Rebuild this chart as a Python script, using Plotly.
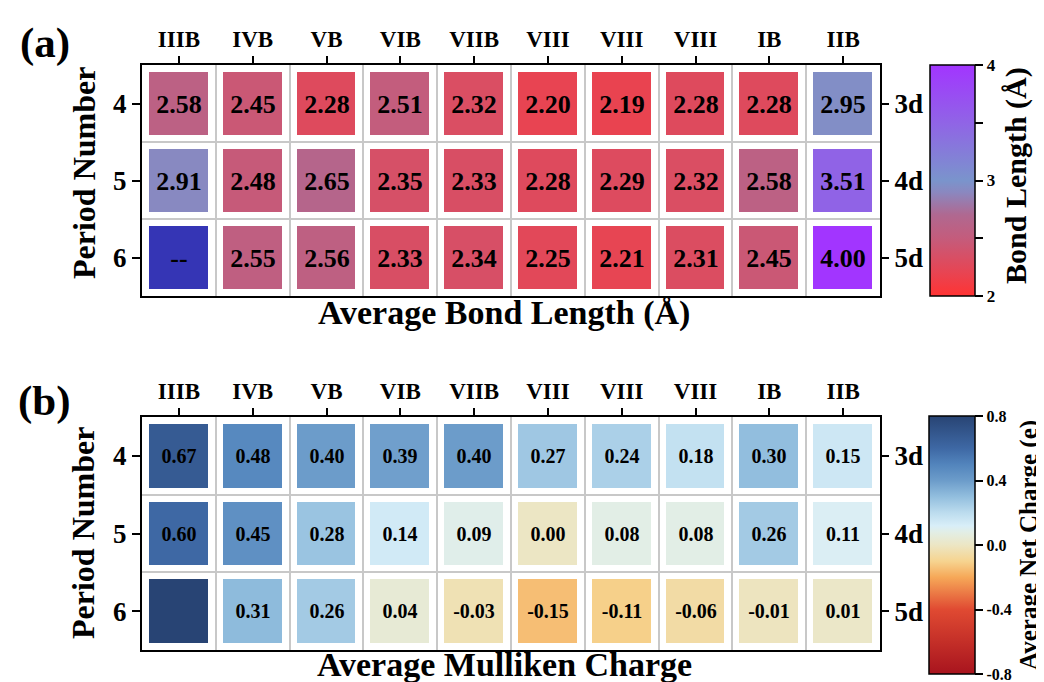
import plotly.graph_objects as go

# ---------------- data ----------------
groups = ["IIIB", "IVB", "VB", "VIB", "VIIB", "VIII", "VIII", "VIII", "IB", "IIB"]
periods = ["4", "5", "6"]
shells = ["3d", "4d", "5d"]

bond_p4 = [2.58, 2.45, 2.28, 2.51, 2.32, 2.20, 2.19, 2.28, 2.28, 2.95]
bond_p5 = [2.91, 2.48, 2.65, 2.35, 2.33, 2.28, 2.29, 2.32, 2.58, 3.51]
bond_p6 = [None, 2.55, 2.56, 2.33, 2.34, 2.25, 2.21, 2.31, 2.45, 4.00]

charge_p4 = [0.67, 0.48, 0.40, 0.39, 0.40, 0.27, 0.24, 0.18, 0.30, 0.15]
charge_p5 = [0.60, 0.45, 0.28, 0.14, 0.09, 0.00, 0.08, 0.08, 0.26, 0.11]
charge_p6 = [None, 0.31, 0.26, 0.04, -0.03, -0.15, -0.11, -0.06, -0.01, 0.01]

bond_missing_label = "--"
charge_missing_label = ""

# ---------------- helpers ----------------
W, H = 1044, 682
FONT = "Liberation Serif"
GRID = "#c8c8c8"

def fx(px):
    return px / W

def fy(py):
    return 1 - py / H

bond = [bond_p4, bond_p5, bond_p6]
charge = [charge_p4, charge_p5, charge_p6]
xi = list(range(len(groups)))
yi = list(range(len(periods)))

def labels(rows, fmt, missing):
    return [[(fmt.format(v) if v is not None else missing) for v in r] for r in rows]

def missing_mask(rows):
    return [[(1 if v is None else None) for v in r] for r in rows]

def missing_labels(rows, missing):
    return [[(missing if v is None else "") for v in r] for r in rows]

bond_scale = [
    [0.0, "#ff3333"], [0.1, "#e84452"], [0.25, "#c45c7c"], [0.35, "#b06890"],
    [0.45, "#8a88c0"], [0.5, "#7a94cc"], [0.75, "#9064e6"], [1.0, "#a235ff"],
]
charge_scale = [
    [0.0, "#a8141e"], [0.25, "#e04a32"], [0.375, "#f6a858"], [0.4375, "#f6d490"],
    [0.5, "#ece6c4"], [0.55, "#e2eee6"], [0.575, "#d8eef8"], [0.625, "#bcdcee"],
    [0.6875, "#92bede"], [0.75, "#6c9cca"], [0.8125, "#5284bc"], [0.875, "#3e68a4"],
    [1.0, "#284474"],
]

fig = go.Figure()

# panel (a)
fig.add_trace(go.Heatmap(
    z=bond, x=xi, y=yi, zmin=2, zmax=4, colorscale=bond_scale,
    xgap=15, ygap=14, hoverinfo="skip",
    text=labels(bond, "{:.2f}", ""), texttemplate="<b>%{text}</b>",
    textfont=dict(family=FONT, size=26, color="black"),
    xaxis="x", yaxis="y",
    colorbar=dict(
        x=fx(922), xanchor="left", xpad=0, y=fy(172.5), yanchor="middle", ypad=0,
        len=231, lenmode="pixels", thickness=45, thicknessmode="pixels",
        outlinecolor="black", outlinewidth=1.5,
        tickmode="array", tickvals=[2, 2.5, 3, 3.5, 4], ticktext=["2", "", "3", "", "4"],
        ticks="outside", ticklen=8, tickwidth=1.5, tickcolor="black",
        tickfont=dict(family=FONT, size=17, color="black", weight="bold"),
    ),
))
fig.add_trace(go.Heatmap(
    z=missing_mask(bond), x=xi, y=yi, zmin=0, zmax=1,
    colorscale=[[0, "#3535b5"], [1, "#3535b5"]], showscale=False,
    xgap=15, ygap=14, hoverinfo="skip",
    text=missing_labels(bond, bond_missing_label), texttemplate="<b>%{text}</b>",
    textfont=dict(family=FONT, size=26, color="black"),
    xaxis="x", yaxis="y",
))
fig.add_trace(go.Scatter(x=[None], y=[None], xaxis="x", yaxis="y2",
                         showlegend=False, hoverinfo="skip"))

# panel (b)
fig.add_trace(go.Heatmap(
    z=charge, x=xi, y=yi, zmin=-0.8, zmax=0.8, colorscale=charge_scale,
    xgap=15, ygap=14, hoverinfo="skip",
    text=labels(charge, "{:.2f}", charge_missing_label), texttemplate="<b>%{text}</b>",
    textfont=dict(family=FONT, size=20, color="black"),
    xaxis="x2", yaxis="y3",
    colorbar=dict(
        x=fx(921), xanchor="left", xpad=0, y=fy(537), yanchor="middle", ypad=0,
        len=258, lenmode="pixels", thickness=46, thicknessmode="pixels",
        outlinecolor="black", outlinewidth=1.5,
        tickmode="array", tickvals=[-0.8, -0.4, 0.0, 0.4, 0.8],
        ticktext=["-0.8", "-0.4", "0.0", "0.4", "0.8"],
        ticks="outside", ticklen=8, tickwidth=1.5, tickcolor="black",
        tickfont=dict(family=FONT, size=16, color="black", weight="bold"),
    ),
))
fig.add_trace(go.Heatmap(
    z=missing_mask(charge), x=xi, y=yi, zmin=0, zmax=1,
    colorscale=[[0, "#284474"], [1, "#284474"]], showscale=False,
    xgap=15, ygap=14, hoverinfo="skip",
    xaxis="x2", yaxis="y3",
))
fig.add_trace(go.Scatter(x=[None], y=[None], xaxis="x2", yaxis="y4",
                         showlegend=False, hoverinfo="skip"))

# ---------------- axes ----------------
def xaxis_cfg(dom_y_anchor):
    return dict(
        domain=[fx(134), fx(872)], range=[-0.5, len(groups) - 0.5], anchor=dom_y_anchor,
        side="top", tickmode="array", tickvals=xi, ticktext=groups,
        ticks="outside", ticklen=7, tickwidth=2, tickcolor="black",
        tickfont=dict(family=FONT, size=23, color="black", weight="bold"),
        showline=True, mirror=True, linewidth=2, linecolor="black",
        showgrid=False, zeroline=False, automargin=False, fixedrange=True,
        minor=dict(tickmode="array", tickvals=[i + 0.5 for i in xi[:-1]],
                   showgrid=True, gridcolor=GRID, gridwidth=2, ticks=""),
    )

def yaxis_cfg(dom, anchor):
    return dict(
        domain=dom, range=[len(periods) - 0.5, -0.5], anchor=anchor,
        tickmode="array", tickvals=yi, ticktext=periods,
        ticks="outside", ticklen=8, tickwidth=2, tickcolor="black",
        tickfont=dict(family=FONT, size=27, color="black", weight="bold"),
        showline=True, mirror=True, linewidth=2, linecolor="black",
        showgrid=False, zeroline=False, automargin=False, fixedrange=True,
        minor=dict(tickmode="array", tickvals=[i + 0.5 for i in yi[:-1]],
                   showgrid=True, gridcolor=GRID, gridwidth=2, ticks=""),
    )

def yaxis_right_cfg(over, anchor):
    return dict(
        overlaying=over, side="right", anchor=anchor,
        range=[len(periods) - 0.5, -0.5],
        tickmode="array", tickvals=yi, ticktext=shells,
        ticks="outside", ticklen=8, tickwidth=2, tickcolor="black",
        tickfont=dict(family=FONT, size=27, color="black", weight="bold"),
        showline=False, showgrid=False, zeroline=False, automargin=False, fixedrange=True,
    )

dom_a = [fy(288), fy(57)]
dom_b = [fy(642), fy(409)]

title_font = dict(family=FONT, size=34, color="black", weight="bold")
ylab_font = dict(family=FONT, size=32, color="black", weight="bold")
panel_font = dict(family=FONT, size=43, color="black", weight="bold")
cb_a_font = dict(family=FONT, size=30, color="black", weight="bold")
cb_b_font = dict(family=FONT, size=25, color="black", weight="bold")

def ann(text, px, py, font, angle=0):
    return dict(text=text, x=fx(px), y=fy(py), xref="paper", yref="paper",
                showarrow=False, font=font, textangle=angle,
                xanchor="center", yanchor="middle")

fig.update_layout(
    width=W, height=H, template="none",
    paper_bgcolor="white", plot_bgcolor="white",
    margin=dict(l=0, r=0, t=0, b=0, pad=0),
    showlegend=False,
    xaxis=xaxis_cfg("y"),
    yaxis=yaxis_cfg(dom_a, "x"),
    yaxis2=yaxis_right_cfg("y", "x"),
    xaxis2=xaxis_cfg("y3"),
    yaxis3=yaxis_cfg(dom_b, "x2"),
    yaxis4=yaxis_right_cfg("y3", "x2"),
    annotations=[
        ann("(a)", 37, 35, panel_font),
        ann("(b)", 36, 393, panel_font),
        ann("Average Bond Length (Å)", 496, 305, title_font),
        ann("Average Mulliken Charge", 496, 656, title_font),
        ann("Period Number", 76, 165, ylab_font, -90),
        ann("Period Number", 75, 525, ylab_font, -90),
        ann("Bond Length (Å)", 1008, 168, cb_a_font, -90),
        ann("Average Net Charge (e)", 1021, 537, cb_b_font, -90),
    ],
)

fig.write_html("out.html")
